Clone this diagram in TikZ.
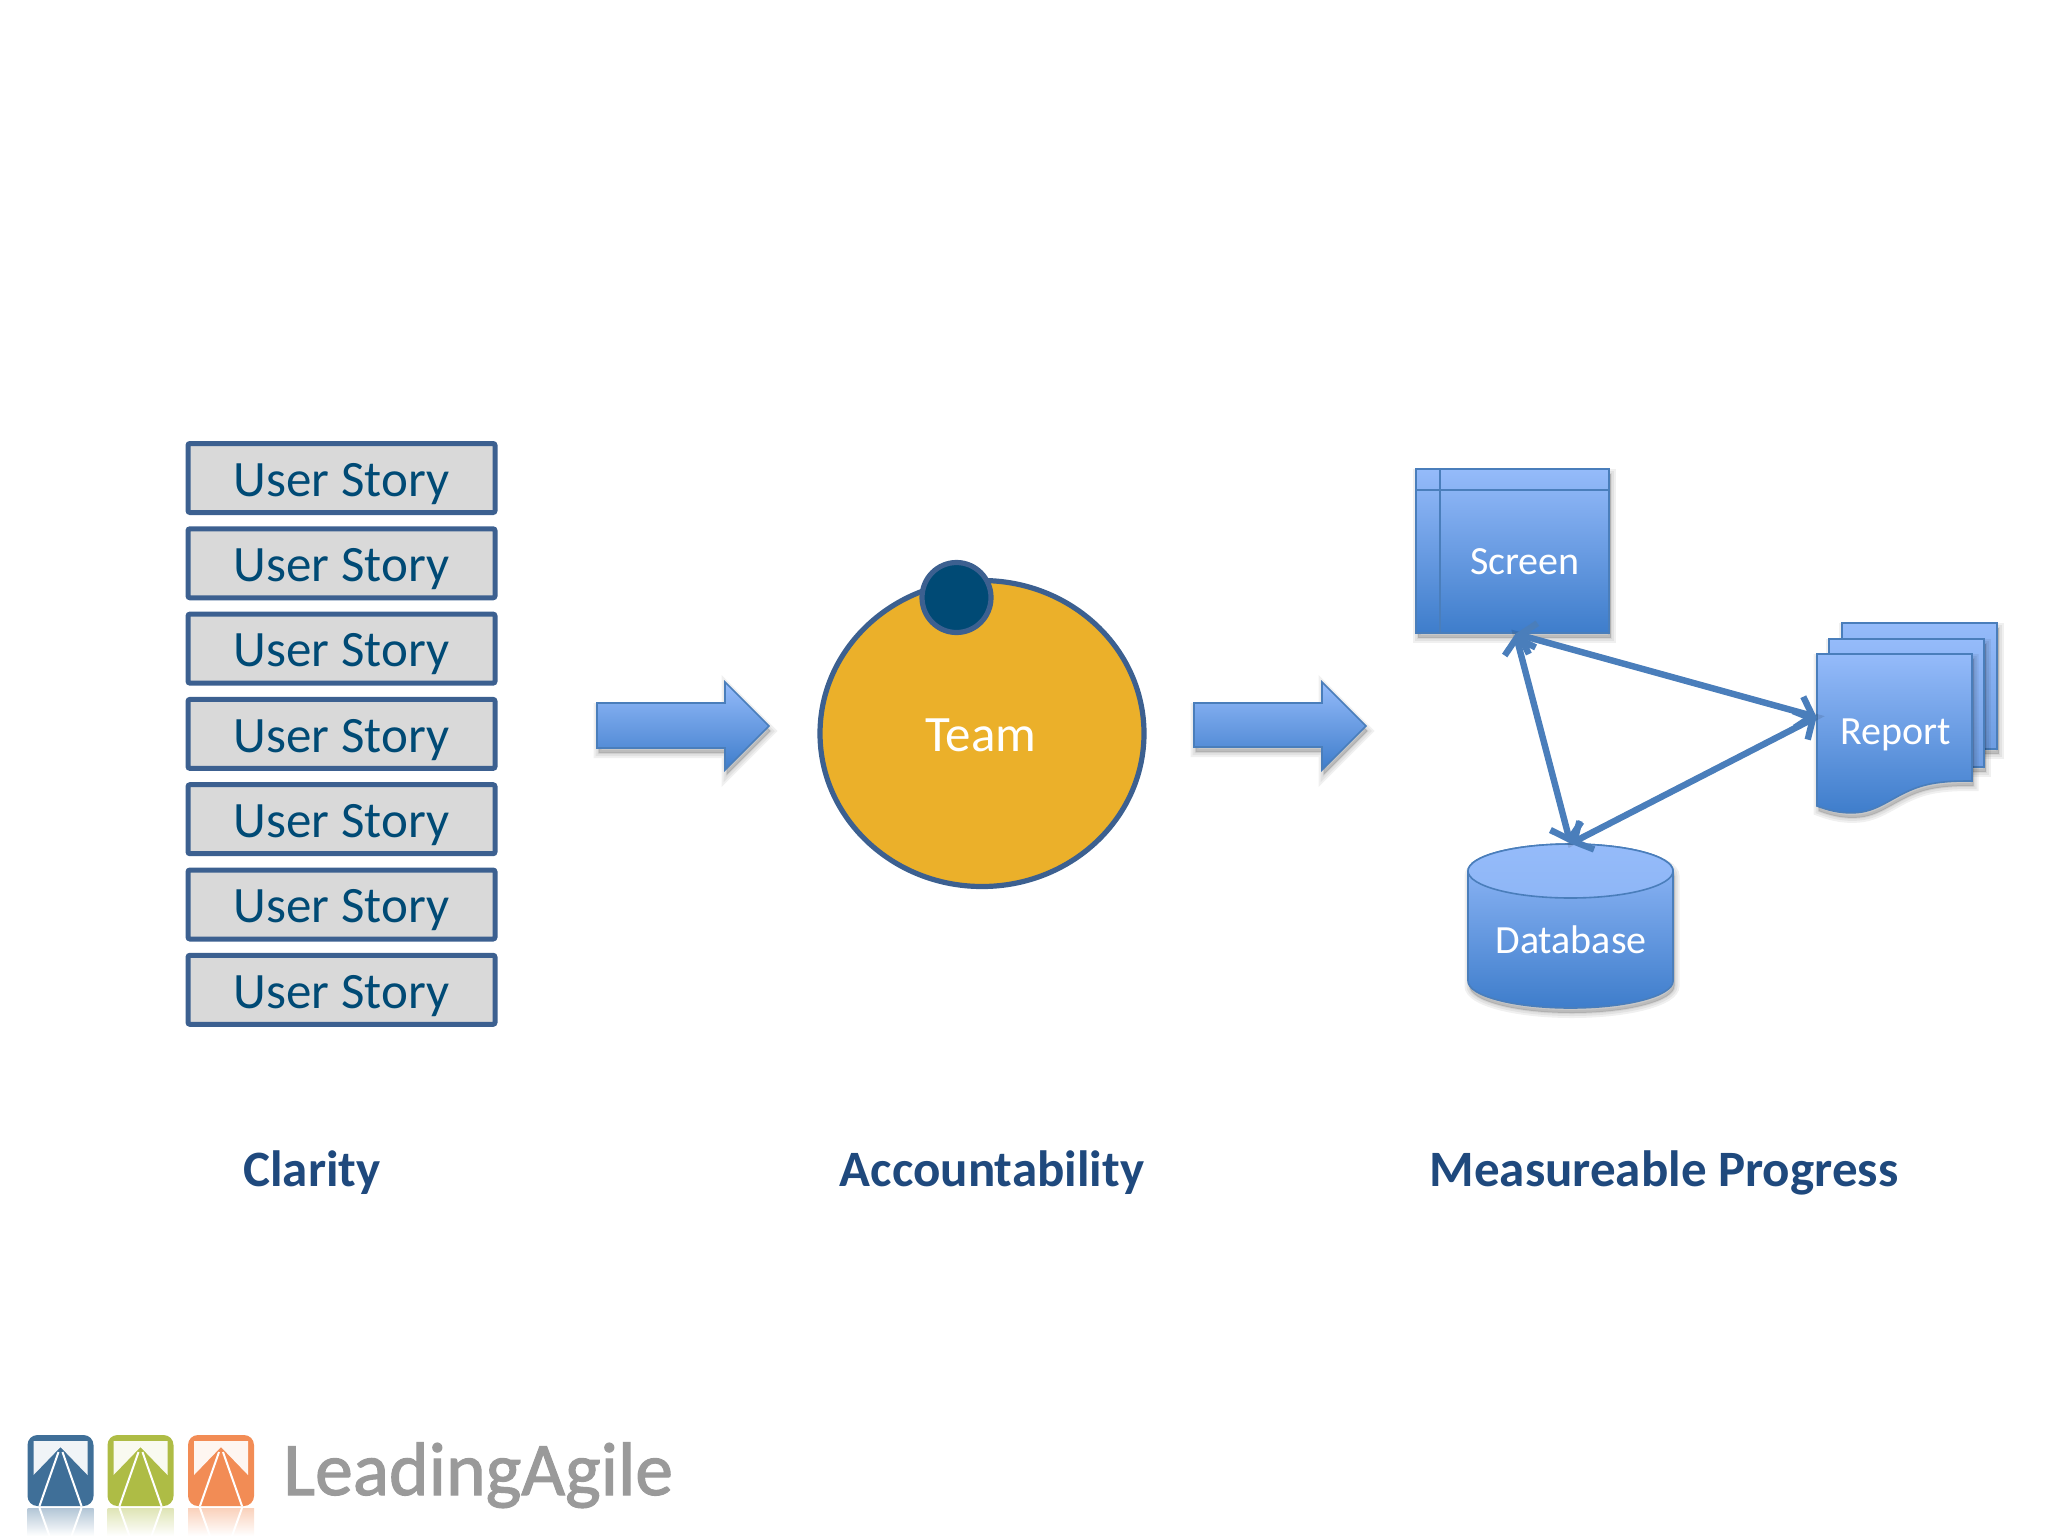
\documentclass[tikz,border=0pt]{standalone}
\usepackage{fontspec}
\setmainfont{Carlito}
\usetikzlibrary{arrows.meta,shapes.geometric}
\definecolor{lightblue}{HTML}{95BBFA}
\definecolor{deepblue}{HTML}{3E7DCB}
\definecolor{midblue}{HTML}{6E9DE2}
\definecolor{edgeblue}{HTML}{4A7EBB}
\definecolor{slate}{HTML}{3C6090}
\definecolor{navy}{HTML}{004A75}
\definecolor{gold}{HTML}{EBB02A}
\definecolor{headblue}{HTML}{1F497D}
\definecolor{greytext}{HTML}{9A9A9A}
\definecolor{logoblue}{HTML}{3F6F98}
\definecolor{logogreen}{HTML}{AEBC45}
\definecolor{logoorange}{HTML}{F28C55}
\newcommand\sz[1]{\fontsize{#1}{#1}\selectfont}
\newcommand\softshadow[1]{\foreach \w in {10,6,2}{\path[fill=black,draw=black,opacity=.06,line width=\w*0.5pt,shift={(1.5,5)}] #1;}}
\newcommand\logoicon[2]{%
  \fill[#2,rounded corners=5pt] (#1,1435) rectangle ++(66,71);
  \fill[white!92!#2] (#1+6,1441) -- (#1+60,1441) -- (#1+60,1475) -- (#1+33,1447) -- (#1+6,1475) -- cycle;
  \draw[white,line width=1pt] (#1+31,1452) -- (#1+12,1506) (#1+35,1452) -- (#1+54,1506);
  \shade[top color=#2!40,bottom color=white] (#1,1508) rectangle ++(66,28);
  \draw[white,line width=1pt] (#1+12,1508) -- (#1+22,1536) (#1+54,1508) -- (#1+44,1536);
}
\tikzset{
  x=0.5pt,y=-0.5pt,
  gradbox/.style={top color=lightblue,bottom color=deepblue,draw=edgeblue,line width=0.8pt},
  paleback/.style={top color=lightblue,bottom color=midblue,draw=edgeblue,line width=0.8pt},
  storybox/.style={rectangle,draw=slate,fill=black!15,line width=2.5pt,rounded corners=1pt,minimum width=153.5pt,minimum height=34.5pt,inner sep=0pt,text=navy,font=\sz{25.5}},
  anchorbox/.style={rectangle,inner sep=0pt},
  whitetext/.style={text=white,inner sep=0pt,font=\sz{20}},
  heading/.style={text=headblue,inner sep=0pt,font=\sz{25.5}\bfseries},
  conn/.style={draw=edgeblue,line width=3.2pt,{Straight Barb[length=7pt,width=16pt]}-{Straight Barb[length=7pt,width=16pt]}},
  connshadow/.style={draw=black,opacity=.1,line width=3pt,shift={(1.5,6)}},
}
\begin{document}
\begin{tikzpicture}
\useasboundingbox (0,0) rectangle (2048,1536);
% user stories
\foreach \i in {0,...,6}{
  \node[storybox] (story\i) at (341.5,478+85.3*\i) {\raisebox{-9.1pt}[0pt][0pt]{User Story}};
}
% block arrows
\softshadow{(597,703) -- (725,703) -- (725,682) -- (769,726) -- (725,770) -- (725,748) -- (597,748) -- cycle}
\path[gradbox] (597,703) -- (725,703) -- (725,682) -- (769,726) -- (725,770) -- (725,748) -- (597,748) -- cycle;
\softshadow{(1194,703) -- (1322,703) -- (1322,682) -- (1366,726) -- (1322,770) -- (1322,747) -- (1194,747) -- cycle}
\path[gradbox] (1194,703) -- (1322,703) -- (1322,682) -- (1366,726) -- (1322,770) -- (1322,747) -- (1194,747) -- cycle;
% team
\node[ellipse,draw=slate,fill=gold,line width=2.6pt,minimum width=162pt,minimum height=153pt,inner sep=0pt] (team) at (982,733.5) {};
\node[text=white,inner sep=0pt,font=\sz{25.5}] (teamtext) at (981,735) {Team};
\node[ellipse,draw=slate,fill=navy,line width=2.6pt,minimum width=34.5pt,minimum height=35pt,inner sep=0pt] (lead) at (956.5,597.5) {};
% screen
\softshadow{(1416,469) rectangle (1609,633)}
\node[rectangle,gradbox,minimum width=96.5pt,minimum height=82pt,inner sep=0pt] (screen) at (1512.5,551) {};
\draw[edgeblue,line width=0.7pt] (1440,469) -- (1440,633) (1416,490) -- (1609,490);
\node[whitetext] (screentext) at (1525,562) {Screen};
% report
\softshadow{(1842,623) rectangle (1997,749)}
\path[paleback] (1842,623) rectangle (1997,749);
\softshadow{(1829,639) rectangle (1984,767)}
\path[paleback] (1829,639) rectangle (1984,767);
\softshadow{(1817,654) -- (1972,654) -- (1972,781) .. controls (1960,781) and (1945,781) .. (1930,784) .. controls (1900,790) and (1885,808) .. (1862,812) .. controls (1850,814) and (1835,813) .. (1817,806) -- cycle}
\path[gradbox] (1817,654) -- (1972,654) -- (1972,781) .. controls (1960,781) and (1945,781) .. (1930,784) .. controls (1900,790) and (1885,808) .. (1862,812) .. controls (1850,814) and (1835,813) .. (1817,806) -- cycle;
\node[anchorbox,minimum width=77.5pt,minimum height=74.5pt] (report) at (1894.5,728.5) {};
\node[whitetext] (reporttext) at (1895.5,735) {Report};
% database
\softshadow{(1468,871) arc[start angle=180,end angle=0,x radius=51.25pt,y radius=13.5pt] -- (1673,981) arc[start angle=0,end angle=-180,x radius=51.25pt,y radius=13.5pt] -- cycle}
\path[gradbox] (1468,871) arc[start angle=180,end angle=0,x radius=51.25pt,y radius=13.5pt] -- (1673,981) arc[start angle=0,end angle=-180,x radius=51.25pt,y radius=13.5pt] -- cycle;
\draw[edgeblue,line width=0.8pt,top color=lightblue,bottom color=lightblue!92!deepblue] (1570.5,871) ellipse[x radius=51.25pt,y radius=13.5pt];
\node[anchorbox,minimum width=102.5pt,minimum height=82pt] (database) at (1570.5,926) {};
\node[whitetext] (databasetext) at (1571,940) {Database};
% connectors
\draw[connshadow] ([xshift=1.5pt]screen.south) -- ([yshift=5.75pt]report.west) -- (database.north) -- cycle;
\draw[conn] ([xshift=1.5pt]screen.south) -- ([yshift=5.75pt]report.west);
\draw[conn] ([xshift=1.5pt]screen.south) -- (database.north);
\draw[conn] ([yshift=5.75pt]report.west) -- (database.north);
% headings
\node[heading] (clarity) at (312,1173) {Clarity};
\node[heading] (account) at (992,1173) {Accountability};
\node[heading] (measure) at (1664,1173) {Measureable Progress};
% logo
\logoicon{27.5}{logoblue}
\logoicon{107.5}{logogreen}
\logoicon{188}{logoorange}
\node[anchor=base west,inner sep=0pt,text=greytext,font=\sz{37.8}] (brand) at (283,1495) {\addfontfeature{FakeBold=1.5}LeadingAgile};
\end{tikzpicture}
\end{document}
